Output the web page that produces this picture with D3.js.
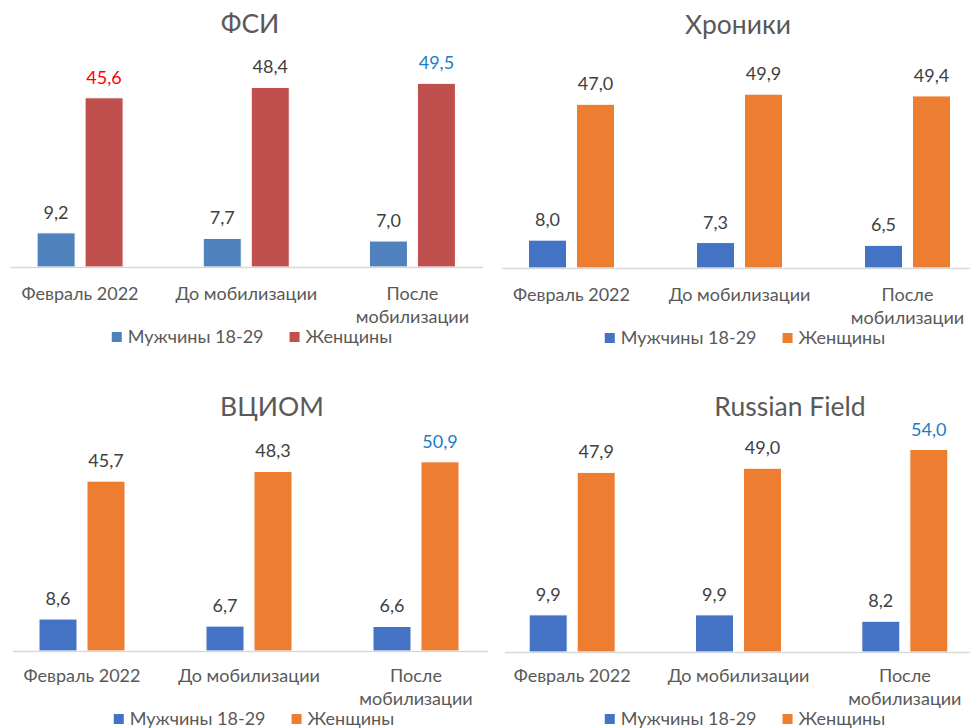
<!DOCTYPE html>
<html><head><meta charset="utf-8">
<script src="https://cdn.jsdelivr.net/npm/d3@7"></script>
<style>
html,body{margin:0;padding:0;background:#fff;}
svg{display:block;font-family:Lato, "Open Sans", sans-serif;}
</style></head>
<body>
<svg id="chart" width="970" height="728"></svg>
<script>
// ---- data ----
const categories = ["Февраль 2022", "До мобилизации", "После мобилизации"];
const seriesNames = ["Мужчины 18-29", "Женщины"];
const panelTitles = ["ФСИ", "Хроники", "ВЦИОМ", "Russian Field"];
const fsiMen = [9.2, 7.7, 7.0];
const fsiWomen = [45.6, 48.4, 49.5];
const chronMen = [8.0, 7.3, 6.5];
const chronWomen = [47.0, 49.9, 49.4];
const vciomMen = [8.6, 6.7, 6.6];
const vciomWomen = [45.7, 48.3, 50.9];
const rfMen = [9.9, 9.9, 8.2];
const rfWomen = [47.9, 49.0, 54.0];
const yMax = 60;

// ---- layout / style ----
const fmt = v => d3.format(".1f")(v).replace(".", ",");
const GRAY = "#595959", VAL = "#404040", RED = "#FF0000", BLUE_TXT = "#1A7DC8";
const panels = [
  {title: panelTitles[0], men: fsiMen, women: fsiWomen, colors: ["#4F81BD", "#C0504D"],
   band: [-3, 495.5], axisY: 267, plotTop: 44.4, axisX: [10, 483], titleX: 250, titleY: 33,
   catY: 300, legY: 343, legX: 252, womenLabelColors: [RED, VAL, BLUE_TXT]},
  {title: panelTitles[1], men: chronMen, women: chronWomen, colors: ["#4472C4", "#ED7D31"],
   band: [487.5, 991.5], axisY: 268, plotTop: 59, axisX: [502, 970], titleX: 738, titleY: 34,
   catY: 301, legY: 344, legX: 745, womenLabelColors: [VAL, VAL, VAL]},
  {title: panelTitles[2], men: vciomMen, women: vciomWomen, colors: ["#4472C4", "#ED7D31"],
   band: [-1.5, 499.5], axisY: 651, plotTop: 428, axisX: [13, 488], titleX: 272, titleY: 416,
   catY: 682, legY: 725, legX: 254, womenLabelColors: [VAL, VAL, BLUE_TXT]},
  {title: panelTitles[3], men: rfMen, women: rfWomen, colors: ["#4472C4", "#ED7D31"],
   band: [489, 988], axisY: 652, plotTop: 427, axisX: [505, 970], titleX: 790, titleY: 416,
   catY: 682, legY: 725, legX: 745, womenLabelColors: [VAL, VAL, BLUE_TXT]}
];

const svg = d3.select("#chart");

panels.forEach(p => {
  const g = svg.append("g");
  const x = d3.scaleBand().domain(categories).range(p.band).padding(0);
  const xs = d3.scaleBand().domain([0, 1]).range([-43, 43]).paddingInner(0.2083).paddingOuter(0);
  const y = d3.scaleLinear().domain([0, yMax]).range([p.axisY, p.plotTop]);

  // title
  g.append("text").attr("x", p.titleX).attr("y", p.titleY)
    .attr("text-anchor", "middle").attr("fill", GRAY)
    .style("font-size", "26.5px").text(p.title);

  // bars
  const rows = categories.map((c, i) => ({cat: c, vals: [p.men[i], p.women[i]], i}));
  rows.forEach(r => {
    const cx = x(r.cat) + x.bandwidth() / 2;
    r.vals.forEach((v, s) => {
      g.append("rect")
        .attr("x", cx + xs(s)).attr("width", xs.bandwidth())
        .attr("y", y(v)).attr("height", y(0) - y(v))
        .attr("fill", p.colors[s]).attr("stroke", "#fff").attr("stroke-width", 1);
      g.append("text")
        .attr("x", cx + xs(s) + xs.bandwidth() / 2).attr("y", y(v) - 14)
        .attr("text-anchor", "middle")
        .attr("fill", s === 1 ? p.womenLabelColors[r.i] : VAL)
        .style("font-size", "18px").text(fmt(v));
    });
  });

  // axis line
  g.append("line").attr("x1", p.axisX[0]).attr("x2", p.axisX[1])
    .attr("y1", y(0) + 0.5).attr("y2", y(0) + 0.5)
    .attr("stroke", "#D9D9D9").attr("stroke-width", 1.5);

  // category labels (wrap if too wide for the band)
  categories.forEach(c => {
    const cx = x(c) + x.bandwidth() / 2;
    const t = g.append("text").attr("x", cx).attr("y", p.catY)
      .attr("text-anchor", "middle").attr("fill", GRAY).style("font-size", "18px").text(c);
    if (t.node().getComputedTextLength() > x.bandwidth() * 0.9) {
      const words = c.split(" ");
      t.text(null);
      words.forEach((w, k) => {
        t.append("tspan").attr("x", cx).attr("y", p.catY + k * 23).text(w);
      });
    }
  });

  // legend
  const lg = g.append("g");
  let off = 0;
  seriesNames.forEach((n, s) => {
    const item = lg.append("g").attr("transform", `translate(${off},0)`);
    item.append("rect").attr("x", 0).attr("y", -11).attr("width", 10).attr("height", 10)
      .attr("fill", p.colors[s]);
    const tt = item.append("text").attr("x", 16).attr("y", 0).attr("fill", GRAY)
      .style("font-size", "18px").text(n);
    off += 16 + tt.node().getComputedTextLength() + 26;
  });
  const total = off - 26;
  lg.attr("transform", `translate(${p.legX - total / 2},${p.legY})`);
});
</script>
</body></html>
